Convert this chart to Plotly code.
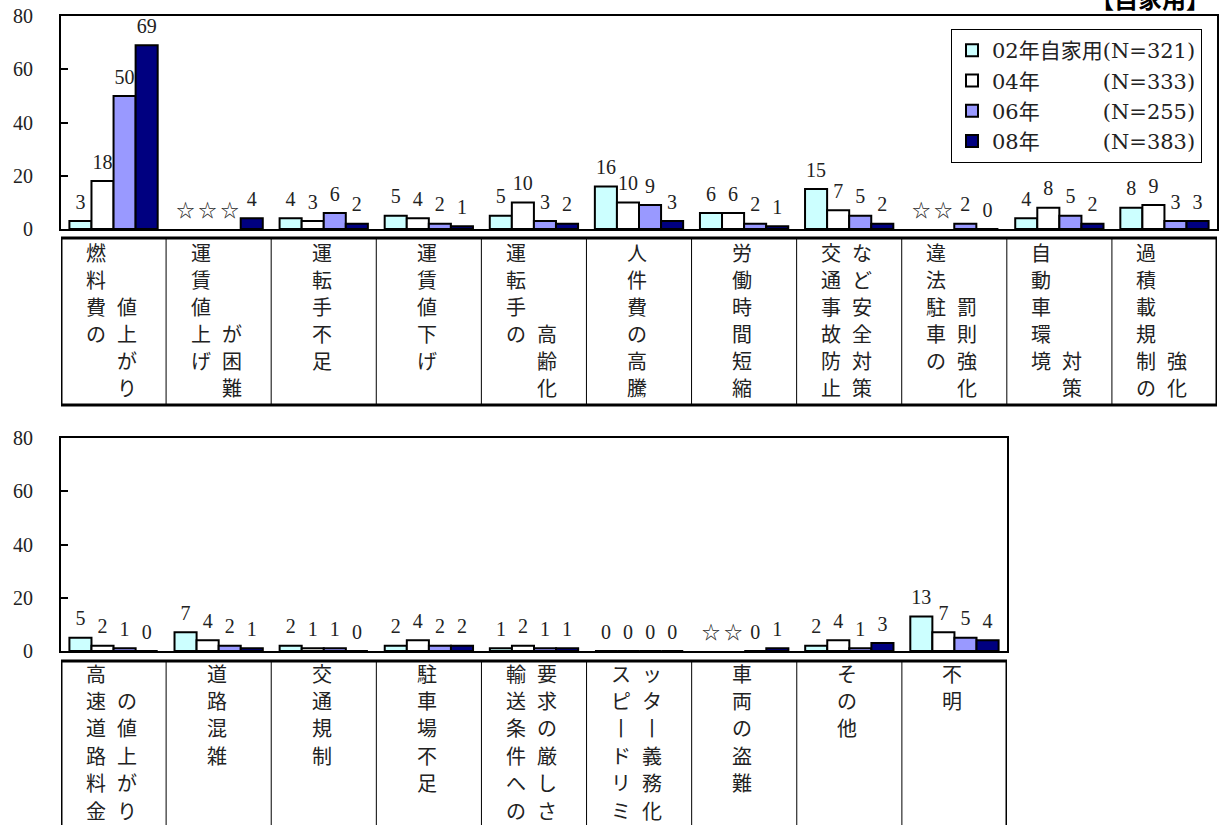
import plotly.graph_objects as go

# ---- data -------------------------------------------------------------
series_names = ["02年自家用(N=321)", "04年\u3000\u3000\u3000(N=333)",
                "06年\u3000\u3000\u3000(N=255)", "08年\u3000\u3000\u3000(N=383)"]
series_colors = ["#CCFFFF", "#FFFFFF", "#9999FF", "#000080"]

categories_top = ["燃料費の値上がり", "運賃値上げが困難", "運転手不足", "運賃値下げ",
                  "運転手の高齢化", "人件費の高騰", "労働時間短縮",
                  "交通事故防止など安全対策", "違法駐車罰則の強化",
                  "自動車環境対策", "過積載規制の強化"]
top_02 = [3, None, 4, 5, 5, 16, 6, 15, None, 4, 8]
top_04 = [18, None, 3, 4, 10, 10, 6, 7, None, 8, 9]
top_06 = [50, None, 6, 2, 3, 9, 2, 5, 2, 5, 3]
top_08 = [69, 4, 2, 1, 2, 3, 1, 2, 0, 2, 3]

categories_bottom = ["高速道路料金の値上がり", "道路混雑", "交通規制", "駐車場不足",
                     "輸送条件への要求の厳しさ", "スピードリミッター義務化",
                     "車両の盗難", "その他", "不明"]
bottom_02 = [5, 7, 2, 2, 1, 0, None, 2, 13]
bottom_04 = [2, 4, 1, 4, 2, 0, None, 4, 7]
bottom_06 = [1, 2, 1, 2, 1, 0, 0, 1, 5]
bottom_08 = [0, 1, 0, 2, 1, 0, 1, 3, 4]

y_ticks = [0, 20, 40, 60, 80]

# vertical label layout: (column side, starting row, characters)
label_cols_top = [
    [("L", 0, "燃料費の"), ("R", 2, "値上がり")],
    [("L", 0, "運賃値上げ"), ("R", 3, "が困難")],
    [("C", 0, "運転手不足")],
    [("C", 0, "運賃値下げ")],
    [("L", 0, "運転手の"), ("R", 3, "高齢化")],
    [("C", 0, "人件費の高騰")],
    [("C", 0, "労働時間短縮")],
    [("L", 0, "交通事故防止"), ("R", 0, "など安全対策")],
    [("L", 0, "違法駐車の"), ("R", 2, "罰則強化")],
    [("L", 0, "自動車環境"), ("R", 4, "対策")],
    [("L", 0, "過積載規制の"), ("R", 4, "強化")],
]
label_cols_bottom = [
    [("L", 0, "高速道路料金"), ("R", 1, "の値上がり")],
    [("C", 0, "道路混雑")],
    [("C", 0, "交通規制")],
    [("C", 0, "駐車場不足")],
    [("L", 0, "輸送条件への"), ("R", 0, "要求の厳しさ")],
    [("L", 0, "スピードリミ"), ("R", 0, "ッター義務化")],
    [("C", 0, "車両の盗難")],
    [("C", 0, "その他")],
    [("C", 0, "不明")],
]

# ---- layout constants ---------------------------------------------------
W, H = 1220, 825
BAR_W = 0.21
SERIF = "Liberation Serif, Noto Sans CJK JP"
LEGEND_FONT = "DejaVu Serif, Noto Sans CJK JP"
CJK = "Noto Sans CJK JP"
TXT = "#222222"


def py(p):
    """pixel row -> paper fraction"""
    return 1 - p / H


fig = go.Figure()


def add_panel(values_list, n, xa, ya, show_legend):
    offsets = [(k - 1.5) * BAR_W for k in range(4)]
    for k, vals in enumerate(values_list):
        xs = [i + offsets[k] for i in range(n)]
        fig.add_trace(go.Bar(
            x=xs, y=vals, width=BAR_W, name=series_names[k],
            marker=dict(color=series_colors[k], line=dict(color="black", width=2)),
            xaxis=xa, yaxis=ya, showlegend=show_legend, hoverinfo="skip",
        ))
        # value labels above the bars
        lx = [x for x, v in zip(xs, vals) if v is not None]
        lv = [v for v in vals if v is not None]
        fig.add_trace(go.Scatter(
            x=lx, y=lv, mode="markers+text", text=[str(v) for v in lv],
            textposition="top center",
            marker=dict(size=10, opacity=0),
            textfont=dict(family=SERIF, size=20, color=TXT),
            xaxis=xa, yaxis=ya, showlegend=False, hoverinfo="skip", cliponaxis=False,
        ))
        # series not surveyed that year
        sx = [x for x, v in zip(xs, vals) if v is None]
        if sx:
            fig.add_trace(go.Scatter(
                x=sx, y=[0] * len(sx), mode="markers+text", text=["☆"] * len(sx),
                textposition="top center",
                marker=dict(size=10, opacity=0),
                textfont=dict(family=CJK, size=18, color=TXT),
                xaxis=xa, yaxis=ya, showlegend=False, hoverinfo="skip", cliponaxis=False,
            ))


add_panel([top_02, top_04, top_06, top_08], len(categories_top), "x", "y", True)
add_panel([bottom_02, bottom_04, bottom_06, bottom_08], len(categories_bottom), "x2", "y2", False)

axis_common = dict(showline=True, linecolor="black", linewidth=2, mirror=True,
                   showgrid=False, zeroline=False, fixedrange=True, automargin=False)
yaxis_common = dict(axis_common, range=[0, 80], tickvals=y_ticks, ticks="inside",
                    ticklen=7, tickwidth=1.5, tickcolor="black",
                    tickfont=dict(family=SERIF, size=20, color=TXT),
                    ticklabelstandoff=22)

fig.update_layout(
    width=W, height=H,
    margin=dict(l=0, r=0, t=0, b=0, autoexpand=False),
    paper_bgcolor="white", plot_bgcolor="white",
    barmode="overlay",
    xaxis=dict(axis_common, domain=[61 / W, 1217 / W], range=[-0.5, len(categories_top) - 0.5],
               showticklabels=False, ticks=""),
    yaxis=dict(yaxis_common, domain=[py(229), py(16)]),
    xaxis2=dict(axis_common, domain=[61 / W, 1007 / W],
                range=[-0.5, len(categories_bottom) - 0.5],
                showticklabels=False, ticks="", anchor="y2"),
    yaxis2=dict(yaxis_common, domain=[py(651), py(438)], anchor="x2"),
    legend=dict(x=951 / W, y=py(29), xanchor="left", yanchor="top",
                bgcolor="white", bordercolor="black", borderwidth=1,
                font=dict(family=LEGEND_FONT, size=21, color=TXT),
                itemclick=False, itemdoubleclick=False, traceorder="normal"),
    showlegend=True,
)

# ---- category tables under each panel ----------------------------------
shapes = []
annotations = []
SIDE_SHIFT = {"L": -18, "R": 13, "C": -2}


def add_table(n, xref, top_px, bottom_px, first_row_px, row_step, layouts):
    shapes.append(dict(type="rect", xref=xref, yref="paper", x0=-0.5, x1=n - 0.5,
                       y0=py(bottom_px), y1=py(top_px),
                       line=dict(color="black", width=3), layer="above"))
    for i in range(n - 1):
        shapes.append(dict(type="line", xref=xref, yref="paper", x0=i + 0.5, x1=i + 0.5,
                           y0=py(bottom_px), y1=py(top_px),
                           line=dict(color="black", width=1)))
    for i, cols in enumerate(layouts):
        for side, start, chars in cols:
            for r, ch in enumerate(chars):
                # long vowel mark turns upright in vertical writing
                glyph = "丨" if ch == "ー" else ch
                annotations.append(dict(
                    xref=xref, yref="paper", x=i, xshift=SIDE_SHIFT[side],
                    y=py(first_row_px + (start + r) * row_step),
                    text=glyph, showarrow=False, xanchor="center", yanchor="middle",
                    font=dict(family=CJK, size=20, color=TXT)))


add_table(len(categories_top), "x", 238, 405, 253, 27, label_cols_top)
add_table(len(categories_bottom), "x2", 661, 860, 673, 27.4, label_cols_bottom)

annotations.append(dict(xref="paper", yref="paper", x=1212 / W, y=py(17),
                        xanchor="right", yanchor="bottom", showarrow=False,
                        text="<b>【自家用】</b>",
                        font=dict(family=CJK, size=24, color="black")))

fig.update_layout(shapes=shapes, annotations=annotations)

fig.write_html("out.html")
